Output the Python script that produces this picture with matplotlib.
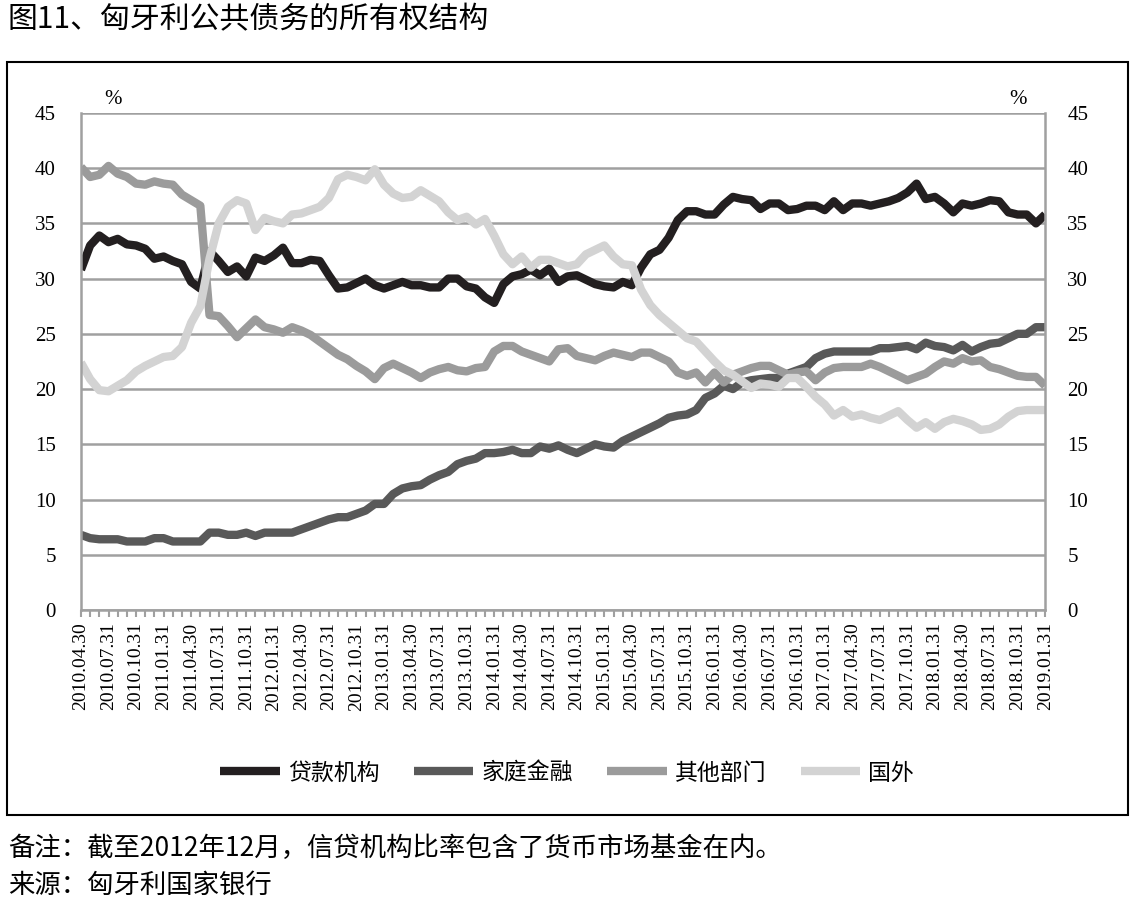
import numpy as np
import pandas as pd
import matplotlib
matplotlib.use("Agg")
import matplotlib.pyplot as plt
from matplotlib.patches import Rectangle

plt.rcParams['font.family'] = ['Noto Sans CJK SC', 'DejaVu Sans']

# monthly, 2010.04 - 2019.01
dates = pd.date_range('2010-04-30', periods=106, freq='ME')

daikuan = [30.8, 33.0, 33.9, 33.3, 33.6, 33.1, 33.0, 32.7, 31.8, 32.0,
           31.6, 31.3, 29.7, 29.1, 32.5, 31.6, 30.6, 31.1, 30.2, 31.9,
           31.6, 32.1, 32.8, 31.4, 31.4, 31.7, 31.6, 30.3, 29.1, 29.2,
           29.6, 30.0, 29.4, 29.1, 29.4, 29.7, 29.4, 29.4, 29.2, 29.2,
           30.0, 30.0, 29.3, 29.1, 28.3, 27.8, 29.5, 30.2, 30.4, 30.8,
           30.3, 30.9, 29.7, 30.2, 30.3, 29.9, 29.5, 29.3, 29.2, 29.7,
           29.4, 31.0, 32.2, 32.6, 33.7, 35.3, 36.1, 36.1, 35.8, 35.8,
           36.7, 37.4, 37.2, 37.1, 36.3, 36.8, 36.8, 36.2, 36.3, 36.6,
           36.6, 36.2, 37.0, 36.2, 36.8, 36.8, 36.6, 36.8, 37.0, 37.3,
           37.8, 38.6, 37.2, 37.4, 36.8, 36.0, 36.8, 36.6, 36.8, 37.1,
           37.0, 36.0, 35.8, 35.8, 35.0, 35.8]

jiating = [6.8, 6.5, 6.4, 6.4, 6.4, 6.2, 6.2, 6.2, 6.5, 6.5,
           6.2, 6.2, 6.2, 6.2, 7.0, 7.0, 6.8, 6.8, 7.0, 6.7,
           7.0, 7.0, 7.0, 7.0, 7.3, 7.6, 7.9, 8.2, 8.4, 8.4,
           8.7, 9.0, 9.6, 9.6, 10.5, 11.0, 11.2, 11.3, 11.8, 12.2,
           12.5, 13.2, 13.5, 13.7, 14.2, 14.2, 14.3, 14.5, 14.2, 14.2,
           14.8, 14.6, 14.9, 14.5, 14.2, 14.6, 15.0, 14.8, 14.7, 15.3,
           15.7, 16.1, 16.5, 16.9, 17.4, 17.6, 17.7, 18.1, 19.2, 19.6,
           20.3, 20.0, 20.6, 20.8, 20.9, 21.0, 21.0, 21.4, 21.7, 22.0,
           22.8, 23.2, 23.4, 23.4, 23.4, 23.4, 23.4, 23.7, 23.7, 23.8,
           23.9, 23.6, 24.2, 23.9, 23.8, 23.5, 24.0, 23.4, 23.8, 24.1,
           24.2, 24.6, 25.0, 25.0, 25.6, 25.6]

qita = [40.1, 39.2, 39.4, 40.2, 39.5, 39.2, 38.6, 38.5, 38.8, 38.6,
        38.5, 37.6, 37.1, 36.6, 26.7, 26.6, 25.7, 24.7, 25.5, 26.3,
        25.6, 25.4, 25.1, 25.6, 25.3, 24.9, 24.3, 23.7, 23.1, 22.7,
        22.1, 21.6, 20.9, 21.9, 22.3, 21.9, 21.5, 21.0, 21.5, 21.8,
        22.0, 21.7, 21.6, 21.9, 22.0, 23.4, 23.9, 23.9, 23.4, 23.1,
        22.8, 22.5, 23.6, 23.7, 23.0, 22.8, 22.6, 23.0, 23.3, 23.1,
        22.9, 23.3, 23.3, 22.9, 22.5, 21.5, 21.2, 21.5, 20.6, 21.5,
        20.6, 21.3, 21.6, 21.9, 22.1, 22.1, 21.7, 21.3, 21.5, 21.6,
        20.8, 21.5, 21.9, 22.0, 22.0, 22.0, 22.3, 22.0, 21.6, 21.2,
        20.8, 21.1, 21.4, 22.0, 22.5, 22.3, 22.8, 22.5, 22.6, 22.0,
        21.8, 21.5, 21.2, 21.1, 21.1, 20.3]

guowai = [22.4, 20.9, 19.9, 19.8, 20.3, 20.8, 21.6, 22.1, 22.5, 22.9,
          23.0, 23.8, 26.0, 27.5, 31.8, 35.0, 36.5, 37.1, 36.8, 34.4,
          35.5, 35.2, 35.0, 35.8, 35.9, 36.2, 36.5, 37.3, 39.0, 39.4,
          39.2, 38.9, 39.9, 38.5, 37.7, 37.3, 37.4, 38.0, 37.5, 37.0,
          36.0, 35.3, 35.6, 34.9, 35.4, 33.9, 32.2, 31.3, 32.0, 31.0,
          31.7, 31.7, 31.4, 31.1, 31.3, 32.2, 32.6, 33.0, 32.0, 31.3,
          31.2, 29.0, 27.6, 26.7, 26.0, 25.3, 24.6, 24.3, 23.4, 22.5,
          21.7, 21.3, 20.7, 20.1, 20.5, 20.4, 20.2, 21.0, 21.0, 20.2,
          19.3, 18.6, 17.6, 18.1, 17.5, 17.7, 17.4, 17.2, 17.6, 18.0,
          17.2, 16.5, 17.0, 16.4, 17.0, 17.3, 17.1, 16.8, 16.3, 16.4,
          16.8, 17.5, 18.0, 18.1, 18.1, 18.1]

names = ['贷款机构', '家庭金融', '其他部门', '国外']
colors = ['#231f20', '#595959', '#9b9b9b', '#d3d3d3']

fig = plt.figure(figsize=(11.37, 9.07), dpi=100)
ax = fig.add_axes([0.0712, 0.3275, 0.848, 0.548])

x = np.arange(len(dates))
for ys, nm, c in zip([daikuan, jiating, qita, guowai], names, colors):
    ax.plot(x, ys, color=c, lw=6, label=nm, solid_joinstyle='round', solid_capstyle='butt')

ax.set_xlim(0, len(dates) - 1)
ax.set_ylim(0, 45)
ax.set_yticks(range(0, 46, 5))
ax.grid(axis='y', color='#a0a0a0', lw=1.8)
ax.set_axisbelow(True)
ax.spines['top'].set_visible(False)
for s in ['left', 'right', 'bottom']:
    ax.spines[s].set_color('#a0a0a0')
    ax.spines[s].set_linewidth(1.8)

ax.set_xticks(x)
lbls = [d.strftime('%Y.%m.%d') if i % 3 == 0 else '' for i, d in enumerate(dates)]
ax.set_xticklabels(lbls, rotation=90, family='Liberation Serif', fontsize=14)
ax.tick_params(axis='x', length=5, width=1.5, color='#a0a0a0', pad=4)
ax.tick_params(axis='y', length=0, labelsize=15, pad=18)
for t in ax.get_yticklabels():
    t.set_family('Liberation Serif')

ax2 = ax.twinx()
ax2.set_ylim(0, 45)
ax2.set_yticks(range(0, 46, 5))
ax2.tick_params(axis='y', length=0, labelsize=15, pad=16)
for t in ax2.get_yticklabels():
    t.set_family('Liberation Serif')
for s in ax2.spines.values():
    s.set_visible(False)

fig.text(113 / 1137, 1 - 100 / 907, '%', family='Liberation Serif', fontsize=15, ha='center', va='center')
fig.text(1018 / 1137, 1 - 100 / 907, '%', family='Liberation Serif', fontsize=15, ha='center', va='center')

leg = fig.legend(loc='center', bbox_to_anchor=(567 / 1137, 1 - 773 / 907), ncol=4, frameon=False,
                 fontsize=16.5, handlelength=2.6, columnspacing=1.5, handletextpad=0.35)

fig.patches.append(Rectangle((7 / 1137, 1 - 815 / 907), 1121 / 1137, 753 / 907,
                             transform=fig.transFigure, fill=False, ec='black', lw=1.5))

fig.text(8 / 1137, 1 - 20 / 907, '图11、匈牙利公共债务的所有权结构', fontsize=21.5, va='center', ha='left')
fig.text(8 / 1137, 1 - 848 / 907, '备注：截至2012年12月，信贷机构比率包含了货币市场基金在内。', fontsize=19, va='center', ha='left')
fig.text(8 / 1137, 1 - 885 / 907, '来源：匈牙利国家银行', fontsize=19, va='center', ha='left')

fig.savefig('out.png', dpi=100)
